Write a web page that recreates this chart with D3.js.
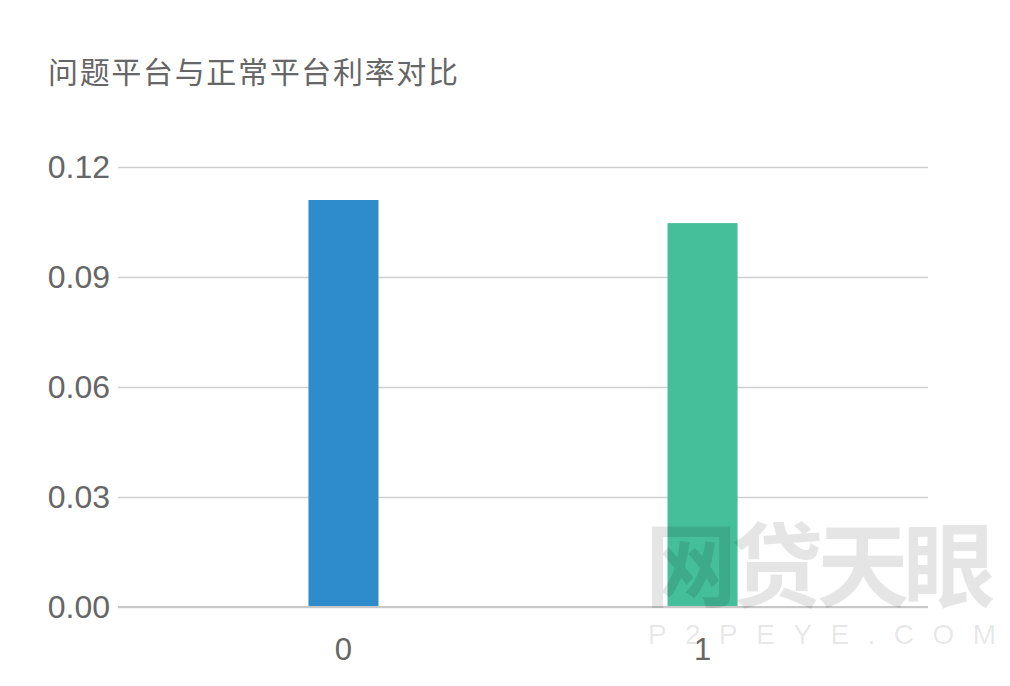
<!DOCTYPE html>
<html>
<head>
<meta charset="utf-8">
<script src="https://cdn.jsdelivr.net/npm/d3@7"></script>
<style>
  html, body { margin: 0; padding: 0; background: #fff; }
  svg { display: block; }
</style>
</head>
<body>
<svg id="chart" width="1010" height="686"></svg>
<script>
const title = "问题平台与正常平台利率对比";
const categories = ["0", "1"];
const values = [0.111, 0.1047];
const colors = ["#2e8bcc", "#45bf99"];
const yTicks = [0, 0.03, 0.06, 0.09, 0.12];

const svg = d3.select("#chart");
const W = 1010, H = 686;
const margin = { left: 118, right: 82, top: 167, bottom: 79 };
const fontFam = "'Liberation Sans', 'Noto Sans CJK SC', sans-serif";

const x = d3.scaleBand()
  .domain(categories)
  .range([margin.left, W - margin.right])
  .paddingInner(0.805)
  .paddingOuter(0.5305);

const y = d3.scaleLinear()
  .domain([0, 0.12])
  .range([H - margin.bottom, margin.top]);

// title
svg.append("text")
  .attr("x", 48)
  .attr("y", 83)
  .attr("font-family", "'Noto Sans CJK SC', sans-serif")
  .attr("font-size", 30)
  .attr("fill", "#666")
  .attr("textLength", 410)
  .attr("lengthAdjust", "spacing")
  .text(title);

// y axis with gridlines
const yAxis = d3.axisLeft(y)
  .tickValues(yTicks)
  .tickFormat(d3.format(".2f"))
  .tickSize(-(W - margin.left - margin.right))
  .tickPadding(8);

const gy = svg.append("g")
  .attr("transform", `translate(${margin.left},0)`)
  .call(yAxis);
gy.select(".domain").remove();
gy.selectAll(".tick line").attr("stroke", "#d0d0d0").attr("stroke-width", 1.5);
gy.selectAll(".tick text")
  .attr("font-family", fontFam)
  .attr("font-size", 32)
  .attr("fill", "#666")
  .attr("dy", "0.34em");

// x axis
const xAxis = d3.axisBottom(x).tickSize(0).tickPadding(42);
const gx = svg.append("g")
  .attr("transform", `translate(0,${H - margin.bottom})`)
  .call(xAxis);
gx.select(".domain").remove();
gx.selectAll(".tick text")
  .attr("font-family", fontFam)
  .attr("font-size", 31)
  .attr("fill", "#666")
  .attr("dy", "0.35em");

// bars
svg.append("g").selectAll("rect")
  .data(values)
  .join("rect")
  .attr("x", (d, i) => x(categories[i]))
  .attr("width", x.bandwidth())
  .attr("y", d => y(d))
  .attr("height", d => y(0) - y(d))
  .attr("fill", (d, i) => colors[i]);

// baseline
svg.append("line")
  .attr("x1", margin.left).attr("x2", W - margin.right)
  .attr("y1", y(0)).attr("y2", y(0))
  .attr("stroke", "#c8c8c8").attr("stroke-width", 2);

// watermark
const wm = svg.append("g").attr("pointer-events", "none");
wm.append("text")
  .attr("x", 645).attr("y", 600)
  .attr("font-family", "'Noto Sans CJK SC', sans-serif")
  .attr("font-weight", "bold")
  .attr("font-size", 92)
  .attr("textLength", 350)
  .attr("lengthAdjust", "spacing")
  .attr("fill", "#000").attr("fill-opacity", 0.1)
  .text("网贷天眼");
wm.append("text")
  .attr("x", 648).attr("y", 644)
  .attr("font-family", "'Liberation Sans', sans-serif")
  .attr("font-size", 28)
  .attr("textLength", 348)
  .attr("lengthAdjust", "spacing")
  .attr("fill", "#000").attr("fill-opacity", 0.1)
  .text("P2PEYE.COM");
</script>
</body>
</html>
